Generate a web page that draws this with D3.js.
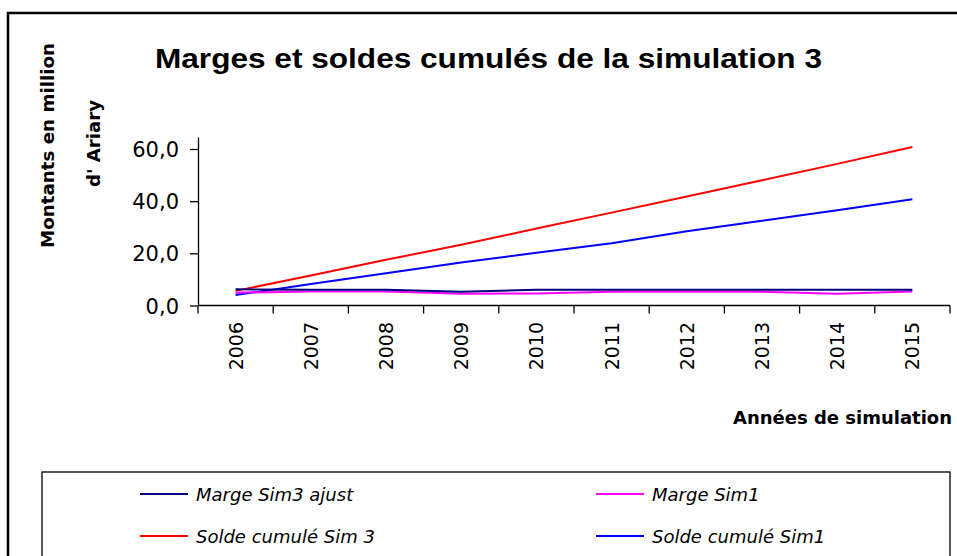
<!DOCTYPE html>
<html>
<head>
<meta charset="utf-8">
<script src="https://cdn.jsdelivr.net/npm/d3@7"></script>
<style>
  body { margin: 0; background: #fff; }
  svg { display: block; }
</style>
</head>
<body>
<div id="chart-container"></div>
<script>
const years = ["2006", "2007", "2008", "2009", "2010", "2011", "2012", "2013", "2014", "2015"];
const margeSim3Ajust = [6.2, 6.0, 6.0, 5.3, 6.0, 6.0, 6.0, 6.0, 6.0, 6.0];
const margeSim1 = [4.9, 5.4, 5.4, 4.5, 4.6, 5.3, 5.3, 5.3, 4.5, 5.4];
const soldeSim3 = [5.6, 11.5, 17.5, 23.3, 29.5, 35.6, 41.8, 48.0, 54.3, 60.8];
const soldeSim1 = [4.0, 8.2, 12.4, 16.5, 20.2, 23.9, 28.5, 32.5, 36.5, 40.7];
const yTicks = [0, 20, 40, 60];

const series = [
  {name: "Solde cumulé Sim1", values: soldeSim1, color: "#0000ff"},
  {name: "Solde cumulé Sim 3", values: soldeSim3, color: "#ff0000"},
  {name: "Marge Sim1", values: margeSim1, color: "#ff00ff"},
  {name: "Marge Sim3 ajust", values: margeSim3Ajust, color: "#000080"}
];
// legend order, two columns
const legendOrder = ["Marge Sim3 ajust", "Marge Sim1", "Solde cumulé Sim 3", "Solde cumulé Sim1"];

(() => {
  const width = 957, height = 556;
  const plotLeft = 198, plotRight = 950, plotBottom = 305.5, plotTop = 137;
  const font = "DejaVu Sans, sans-serif";

  const svg = d3.create("svg")
    .attr("width", width)
    .attr("height", height)
    .attr("viewBox", [0, 0, width, height]);

  // outer frame
  svg.append("rect")
    .attr("x", 8).attr("y", 13)
    .attr("width", width).attr("height", height)
    .attr("fill", "none").attr("stroke", "#000").attr("stroke-width", 2.5);

  const x = d3.scaleBand().domain(years).range([plotLeft, plotRight]).padding(0);
  const y = d3.scaleLinear().domain([0, 64.6]).range([plotBottom, plotTop]);

  // title
  svg.append("text")
    .attr("x", 155).attr("y", 68)
    .attr("textLength", 667).attr("lengthAdjust", "spacingAndGlyphs")
    .style("font-family", "Liberation Sans, Arial, sans-serif")
    .style("font-weight", "bold").style("font-size", "27px")
    .text("Marges et soldes cumulés de la simulation 3");

  // y axis
  svg.append("g")
    .attr("transform", `translate(${plotLeft},0)`)
    .call(d3.axisLeft(y).tickValues(yTicks).tickSize(8).tickSizeOuter(0)
      .tickFormat(d => d3.format(".1f")(d).replace(".", ",")))
    .call(g => g.select(".domain").attr("stroke", "#000").attr("stroke-width", 1.3))
    .call(g => g.selectAll(".tick line").attr("stroke", "#000").attr("stroke-width", 1.3))
    .call(g => g.selectAll("text").attr("x", -19).attr("dy", "0.36em").attr("fill", "#000")
      .style("font-family", font).style("font-size", "21px"));

  // x axis: line plus ticks at band edges
  const xg = svg.append("g");
  xg.append("line")
    .attr("x1", plotLeft).attr("x2", plotRight)
    .attr("y1", plotBottom).attr("y2", plotBottom)
    .attr("stroke", "#000").attr("stroke-width", 1.3);
  const edges = years.map(d => x(d)).concat([x(years[years.length - 1]) + x.bandwidth()]);
  xg.selectAll(".edge").data(edges).enter().append("line")
    .attr("x1", d => d).attr("x2", d => d)
    .attr("y1", plotBottom).attr("y2", plotBottom + 8)
    .attr("stroke", "#000").attr("stroke-width", 1.3);
  xg.selectAll(".yl").data(years).enter().append("text")
    .attr("transform", d => `translate(${x(d) + x.bandwidth() / 2 + 7},322) rotate(-90)`)
    .attr("text-anchor", "end")
    .style("font-family", font).style("font-size", "19px")
    .text(d => d);

  // axis titles
  svg.append("text")
    .attr("x", 733).attr("y", 424)
    .attr("textLength", 219).attr("lengthAdjust", "spacingAndGlyphs")
    .style("font-family", font).style("font-weight", "bold").style("font-size", "17px")
    .text("Années de simulation");
  svg.append("text")
    .attr("transform", "translate(54,248) rotate(-90)")
    .attr("textLength", 205).attr("lengthAdjust", "spacingAndGlyphs")
    .style("font-family", font).style("font-weight", "bold").style("font-size", "17px")
    .text("Montants en million");
  svg.append("text")
    .attr("transform", "translate(100,187) rotate(-90)")
    .attr("textLength", 87).attr("lengthAdjust", "spacingAndGlyphs")
    .style("font-family", font).style("font-weight", "bold").style("font-size", "17px")
    .text("d' Ariary");

  // lines
  const line = d3.line()
    .x((d, i) => x(years[i]) + x.bandwidth() / 2)
    .y(d => y(d));
  svg.append("g").selectAll("path").data(series).enter().append("path")
    .attr("d", d => line(d.values))
    .attr("fill", "none")
    .attr("stroke", d => d.color)
    .attr("stroke-width", 2);

  // legend
  svg.append("rect")
    .attr("x", 42).attr("y", 472).attr("width", 908).attr("height", 100)
    .attr("fill", "#fff").attr("stroke", "#000").attr("stroke-width", 1.3);
  const colorOf = name => series.find(s => s.name === name).color;
  const lg = svg.append("g").selectAll("g").data(legendOrder).enter().append("g")
    .attr("transform", (d, i) => `translate(${i % 2 === 0 ? 140 : 596},${i < 2 ? 494 : 536})`);
  lg.append("line")
    .attr("x1", 0).attr("x2", 48).attr("y1", 0).attr("y2", 0)
    .attr("stroke", d => colorOf(d)).attr("stroke-width", 2);
  lg.append("text")
    .attr("x", 56).attr("y", 7)
    .style("font-family", font).style("font-style", "italic").style("font-size", "18px")
    .text(d => d);

  d3.select("#chart-container").append(() => svg.node());
})();
</script>
</body>
</html>
